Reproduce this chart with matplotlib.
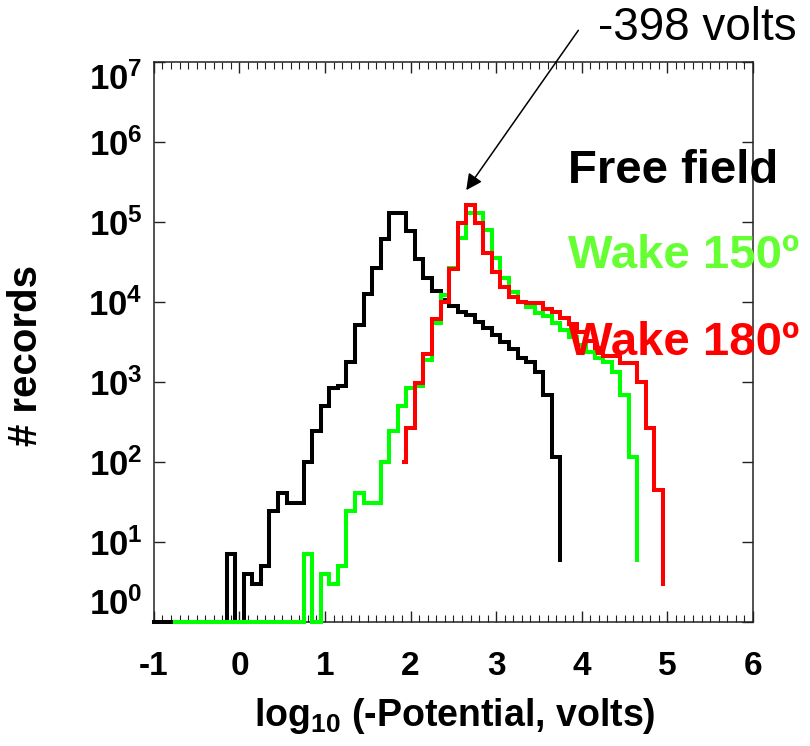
import numpy as np
import matplotlib
matplotlib.use("Agg")
import matplotlib.pyplot as plt
import matplotlib.ticker as ticker

plt.rcParams["font.family"] = ["Liberation Sans", "DejaVu Sans"]
plt.rcParams["font.weight"] = "bold"
plt.rcParams["mathtext.fontset"] = "custom"
plt.rcParams["mathtext.rm"] = "Liberation Sans"
plt.rcParams["mathtext.bf"] = "Liberation Sans:bold"
plt.rcParams["axes.unicode_minus"] = False

# left edge of each step (log10 of -potential) and the record count on it
black_left = [-1.0, -0.15, -0.05, 0.05, 0.15, 0.25, 0.35, 0.45, 0.55, 0.65,
              0.75, 0.85, 0.95, 1.05, 1.15, 1.25, 1.35, 1.45, 1.55, 1.65,
              1.75, 1.85, 1.95, 2.05, 2.15, 2.25, 2.35, 2.45, 2.55, 2.65,
              2.75, 2.85, 2.95, 3.05, 3.15, 3.25, 3.35, 3.45, 3.55, 3.65, 3.75]
black_n = [0, 7, 0, 4, 3, 5, 24, 41, 31, 31,
           100, 240, 500, 830, 890, 1800, 5200, 12600, 26300, 62000,
           129000, 129000, 78000, 35000, 20000, 13800, 10700, 8900, 7600, 6800,
           5600, 4800, 3900, 3200, 2600, 2000, 1800, 1350, 690, 116, 6]

green_left = [-0.75, 0.75, 0.85, 0.95, 1.05, 1.15, 1.25, 1.35, 1.45, 1.55,
              1.65, 1.75, 1.85, 1.95, 2.05, 2.15, 2.25, 2.35, 2.45, 2.55,
              2.65, 2.75, 2.85, 2.95, 3.05, 3.15, 3.25, 3.35, 3.45, 3.55,
              3.65, 3.75, 3.85, 3.95, 4.05, 4.15, 4.25, 4.35, 4.45, 4.55, 4.65]
green_n = [0, 7, 0, 4, 3, 5, 24, 41, 31, 31,
           100, 245, 500, 830, 890, 1860, 5400, 12300, 26300, 63000,
           129000, 129000, 79000, 35500, 20000, 13200, 10000, 8700, 7200, 6600,
           5400, 4500, 3700, 2900, 2400, 2000, 1780, 1350, 690, 116, 6]

red_left = [1.92, 1.95, 2.05, 2.15, 2.25, 2.35, 2.45, 2.55, 2.65, 2.75,
            2.85, 2.95, 3.05, 3.15, 3.25, 3.35, 3.45, 3.55, 3.65, 3.75,
            3.85, 3.95, 4.05, 4.15, 4.25, 4.35, 4.45, 4.55, 4.65, 4.75,
            4.85, 4.95]
red_n = [100, 263, 977, 2240, 6200, 10000, 25700, 96600, 164000, 96600,
         40700, 24000, 15500, 11500, 10000, 9660, 9660, 8130, 7410, 6310,
         5250, 4200, 3300, 2630, 2140, 2100, 1740, 1740, 1000, 263,
         45, 3]

SERIES = [
    ("Free field", black_left, black_n, "#000000", "#000000"),
    ("Wake 150º", green_left, green_n, "#00ff00", "#66ff33"),
    ("Wake 180º", red_left, red_n, "#ff0000", "#ff0000"),
]
LABEL_Y = [10**5.49, 10**4.42, 10**3.34]

fig = plt.figure(figsize=(8.1, 7.46), dpi=100)
ax = fig.add_axes([0.190, 0.1666, 0.7395, 0.7499])

for name, x, n, col, _ in SERIES:
    ax.plot(x, np.maximum(np.array(n, dtype=float), 1), drawstyle="steps-post",
            color=col, lw=2.9, clip_on=False, solid_joinstyle="miter", zorder=3)

ax.set_yscale("log")
ax.set_xlim(-1, 6)
ax.set_ylim(1, 1e7)
ax.set_xticks(range(-1, 7))
ax.xaxis.set_minor_locator(ticker.MultipleLocator(0.1))
ax.set_yticks([10.0**k for k in range(8)])
ax.yaxis.set_minor_locator(ticker.NullLocator())
ax.yaxis.set_major_formatter(ticker.FuncFormatter(
    lambda v, p: r"$\mathbf{10^{%d}}$" % round(np.log10(v))))

ax.tick_params(which="both", direction="in", top=True, right=True,
               labelsize=24, color="#222222")
ax.tick_params(axis="x", which="major", length=8, width=1, pad=21)
ax.tick_params(axis="x", which="minor", length=4.8, width=0.8)
ax.tick_params(axis="y", which="major", length=8, width=1, pad=8, labelsize=25)
for sp in ax.spines.values():
    sp.set_linewidth(1.1)
    sp.set_color("#222222")

yt = ax.yaxis.get_major_ticks()
yt[0].label1.set_va("bottom")
yt[-1].label1.set_va("top")

for (name, _, _, _, tcol), ly in zip(SERIES, LABEL_Y):
    ax.text(3.84, ly, name, color=tcol, fontsize=34, fontweight="bold",
            va="baseline", ha="left", clip_on=False, zorder=5)

ax.annotate("", xy=(2.65, 10**5.4), xytext=(3.96, 10**7.4),
            arrowprops=dict(arrowstyle="-|>", color="black", lw=1.1,
                            mutation_scale=24, shrinkA=0, shrinkB=0),
            annotation_clip=False)
ax.text(4.19, 10**7.43, "-398 volts", fontsize=33, fontweight="normal",
        va="center", ha="left", clip_on=False)

fig.text(26 / 810, 1 - 355 / 746, "# records", rotation=90, ha="center",
         va="center", fontsize=29, fontweight="bold")
fig.text(455 / 810, 1 - 716 / 746, r"log$_{\mathbf{10}}$ (-Potential, volts)",
         ha="center", va="center", fontsize=27, fontweight="bold")

fig.savefig("out.png", dpi=100)
